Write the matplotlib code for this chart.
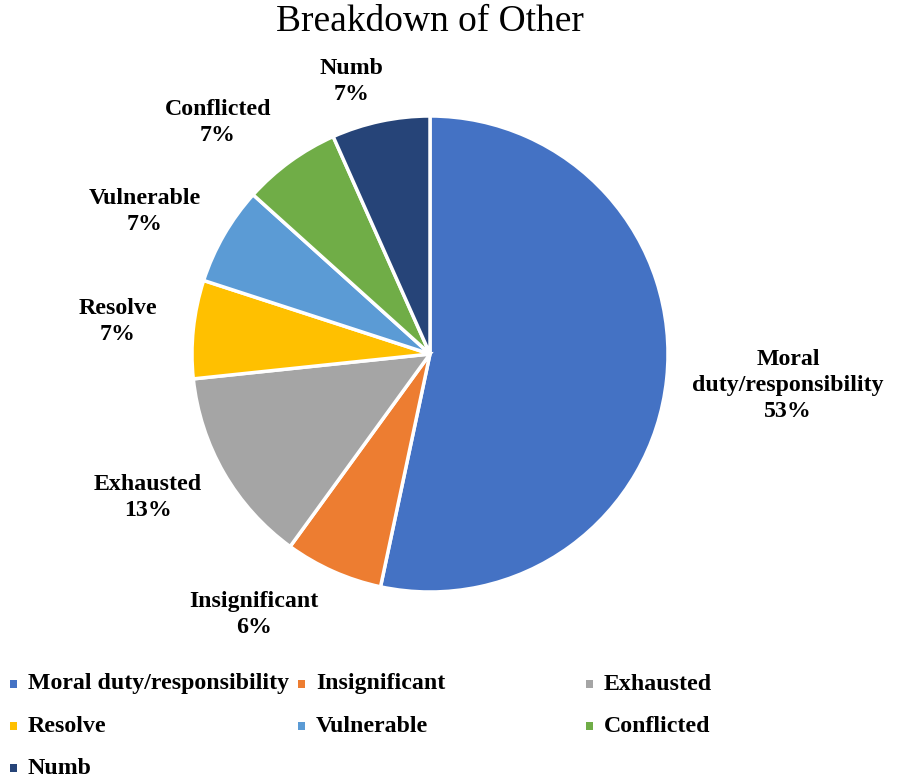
import numpy as np
import matplotlib
matplotlib.use("Agg")
import matplotlib.pyplot as plt
from matplotlib.patches import Rectangle

plt.rcParams['font.family'] = ['Liberation Serif', 'DejaVu Serif']

# data (counts, labels as printed on the chart)
categories = ['Moral duty/responsibility', 'Insignificant', 'Exhausted', 'Resolve',
              'Vulnerable', 'Conflicted', 'Numb']
values = [8, 1, 2, 1, 1, 1, 1]
pct_labels = ['53%', '6%', '13%', '7%', '7%', '7%', '7%']
label_names = ['Moral\nduty/responsibility', 'Insignificant', 'Exhausted', 'Resolve',
               'Vulnerable', 'Conflicted', 'Numb']
colors = ['#4472C4', '#ED7D31', '#A5A5A5', '#FFC000', '#5B9BD5', '#70AD47', '#264478']

W, H = 902, 779
fig = plt.figure(figsize=(W / 100, H / 100), dpi=100)

# pie axes: center (430,354) px, radius 238 px
cx, cy, r = 430, 354, 238
ax = fig.add_axes([(cx - r) / W, (H - cy - r) / H, 2 * r / W, 2 * r / H])
wedges, _ = ax.pie(values, colors=colors, startangle=90, counterclock=False,
                   radius=1, wedgeprops=dict(edgecolor='white', linewidth=2.5))
ax.set_xlim(-1, 1)
ax.set_ylim(-1, 1)
ax.set_aspect('equal')
ax.axis('off')

# label placement (distance, angle tweak in degrees)
lab_dist = [1.51, 1.32, 1.33, 1.32, 1.34, 1.32, 1.19]
lab_tweak = [1, -10, -3, 0, 3.5, 6.5, 4]
for w, name, pct, d, t in zip(wedges, label_names, pct_labels, lab_dist, lab_tweak):
    ang = np.deg2rad((w.theta1 + w.theta2) / 2 + t)
    ax.text(d * np.cos(ang), d * np.sin(ang), name + '\n' + pct,
            ha='center', va='center', fontsize=17.2, fontweight='bold',
            linespacing=1.3, clip_on=False)

fig.text(430 / W, 1 - 22 / H, 'Breakdown of Other', ha='center', va='center',
         fontsize=27)

# legend laid out in a fixed grid like the original
col_x = [13, 301, 589]
row_y = [684, 726, 768]
for i, (name, c) in enumerate(zip(categories, colors)):
    x = col_x[i % 3]
    y = row_y[i // 3]
    fig.add_artist(Rectangle(((x - 3) / W, 1 - (y + 4) / H), 7 / W, 8 / H,
                             transform=fig.transFigure, facecolor=c, edgecolor='none'))
    fig.text((x + 15) / W, 1 - y / H, name, ha='left', va='center',
             fontsize=17.2, fontweight='bold')

fig.savefig('out.png', dpi=100)
